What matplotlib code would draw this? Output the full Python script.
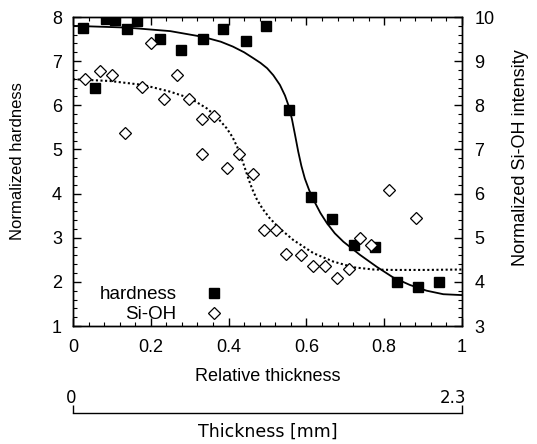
"""Normalized hardness and Si-OH intensity vs. relative thickness."""

import matplotlib.pyplot as plt
from matplotlib.lines import Line2D
from matplotlib.ticker import MultipleLocator, AutoMinorLocator
from matplotlib.transforms import ScaledTranslation

plt.rcParams['font.family'] = ['Liberation Sans', 'DejaVu Sans']

# measured points (left axis)
hard_x = [0.026, 0.057, 0.085, 0.108, 0.139, 0.165, 0.224, 0.278, 0.334, 0.386,
          0.445, 0.496, 0.555, 0.612, 0.666, 0.722, 0.776, 0.833, 0.887, 0.941]
hard_y = [7.75, 6.39, 7.95, 7.93, 7.73, 7.91, 7.50, 7.25, 7.50, 7.73,
          7.46, 7.80, 5.90, 3.92, 3.42, 2.83, 2.80, 2.00, 1.88, 2.00]

# Si-OH intensity (right axis)
sioh_x = [0.031, 0.069, 0.099, 0.134, 0.177, 0.201, 0.235, 0.268, 0.297, 0.332,
          0.362, 0.332, 0.427, 0.397, 0.462, 0.491, 0.521, 0.547, 0.585, 0.618,
          0.648, 0.679, 0.709, 0.738, 0.765, 0.812, 0.881]
sioh_y = [8.60, 8.78, 8.69, 7.37, 8.41, 9.40, 8.14, 8.69, 8.14, 7.68,
          7.75, 6.90, 6.90, 6.58, 6.44, 5.18, 5.18, 4.63, 4.60, 4.37,
          4.37, 4.09, 4.29, 5.00, 4.84, 6.07, 5.44]

# fitted curves
fit_h_x = [0.0, 0.139, 0.25, 0.334, 0.38, 0.411, 0.44, 0.463, 0.482, 0.499,
           0.515, 0.532, 0.545, 0.555, 0.563, 0.571, 0.579, 0.587, 0.596,
           0.607, 0.62, 0.636, 0.652, 0.673, 0.695, 0.738, 0.781, 0.823,
           0.866, 0.909, 0.952, 1.0]
fit_h_y = [7.80, 7.76, 7.68, 7.55, 7.44, 7.33, 7.20, 7.07, 6.96, 6.84,
           6.68, 6.46, 6.22, 5.97, 5.68, 5.32, 4.95, 4.63, 4.34,
           4.08, 3.83, 3.56, 3.34, 3.10, 2.91, 2.61, 2.34, 2.10,
           1.93, 1.80, 1.72, 1.70]

fit_s_x = [0.0, 0.095, 0.181, 0.249, 0.301, 0.344, 0.369, 0.395, 0.41, 0.422,
           0.432, 0.441, 0.45, 0.46, 0.472, 0.487, 0.505, 0.53, 0.566, 0.618,
           0.669, 0.721, 0.772, 0.823, 0.909, 1.0]
fit_s_y = [8.59, 8.55, 8.46, 8.31, 8.16, 7.93, 7.74, 7.48, 7.28, 7.06,
           6.84, 6.60, 6.36, 6.12, 5.88, 5.66, 5.45, 5.22, 4.95, 4.65,
           4.46, 4.33, 4.28, 4.27, 4.27, 4.28]

W, H = 537, 444
fig = plt.figure(figsize=(W / 100, H / 100), dpi=100)
ax = fig.add_axes([73 / W, 1 - 326 / H, 389 / W, 309 / H])
ax2 = ax.twinx()

ax.plot(fit_h_x, fit_h_y, color='black', lw=1.3)
ax.plot(hard_x, hard_y, 's', color='black', ms=7.2, ls='none')
ax2.plot(fit_s_x, fit_s_y, color='black', lw=1.5, ls=(0, (1, 1.2)))
ax2.plot(sioh_x, sioh_y, 'D', mfc='white', mec='black', mew=0.9, ms=5.8, ls='none')

ax.set_xlim(0, 1)
ax.set_ylim(1, 8)
ax2.set_ylim(3, 10)

for a in (ax, ax2):
    for s in a.spines.values():
        s.set_linewidth(1.0)
ax.xaxis.set_major_locator(MultipleLocator(0.2))
ax.xaxis.set_minor_locator(AutoMinorLocator(5))
ax.yaxis.set_major_locator(MultipleLocator(1))
ax.yaxis.set_minor_locator(AutoMinorLocator(5))
ax2.yaxis.set_major_locator(MultipleLocator(1))
ax2.yaxis.set_minor_locator(AutoMinorLocator(5))
ax.set_xticks([0, 0.2, 0.4, 0.6, 0.8, 1.0], ['0', '0.2', '0.4', '0.6', '0.8', '1'])

ax.tick_params(axis='x', which='both', direction='in', top=True, labelsize=13, pad=9)
ax.tick_params(axis='y', which='both', direction='in', right=False, labelsize=13, pad=8)
ax2.tick_params(axis='y', which='both', direction='in', labelsize=13, pad=9)
for a in (ax, ax2):
    a.tick_params(which='major', length=6, width=1)
    a.tick_params(which='minor', length=3, width=0.8)

ax.set_xlabel('Relative thickness', fontsize=13, labelpad=9)
ax.set_ylabel('Normalized hardness', fontsize=12)
ax.yaxis.set_label_coords(-0.123, 0.535)
ax2.set_ylabel('Normalized Si-OH intensity', fontsize=13)
ax2.yaxis.set_label_coords(1.1285, 0.545)

handles = [Line2D([], [], marker='s', color='black', ms=7.2, ls='none'),
           Line2D([], [], marker='D', mfc='white', mec='black', mew=0.9, ms=5.8, ls='none')]
ax2.legend(handles, ['hardness', 'Si-OH'], loc='lower left', bbox_to_anchor=(0.034, -0.034),
           frameon=False, markerfirst=False, fontsize=13.5, handlelength=1.5,
           handletextpad=1.27, labelspacing=0.15, borderpad=0.2)

# secondary thickness scale
ax3 = fig.add_axes([73 / W, 1 - 413 / H, 389 / W, 0.0001])
for side in ('top', 'left', 'right'):
    ax3.spines[side].set_visible(False)
ax3.spines['bottom'].set_linewidth(1.0)
ax3.set_xlim(0, 2.3)
ax3.set_yticks([])
ax3.set_xticks([0, 2.3], ['0', '2.3'], family='DejaVu Sans')
ax3.tick_params(axis='x', direction='in', length=6, width=1, bottom=True, top=False,
                labelbottom=False, labeltop=True, labelsize=12, pad=4)
for lab, dx in zip(ax3.get_xticklabels(), (-2, -9)):
    lab.set_transform(lab.get_transform() + ScaledTranslation(dx / 100, 0, fig.dpi_scale_trans))
ax3.set_xlabel('Thickness [mm]', fontsize=12.5, family='DejaVu Sans', labelpad=7)

fig.savefig('out.png', dpi=100)
